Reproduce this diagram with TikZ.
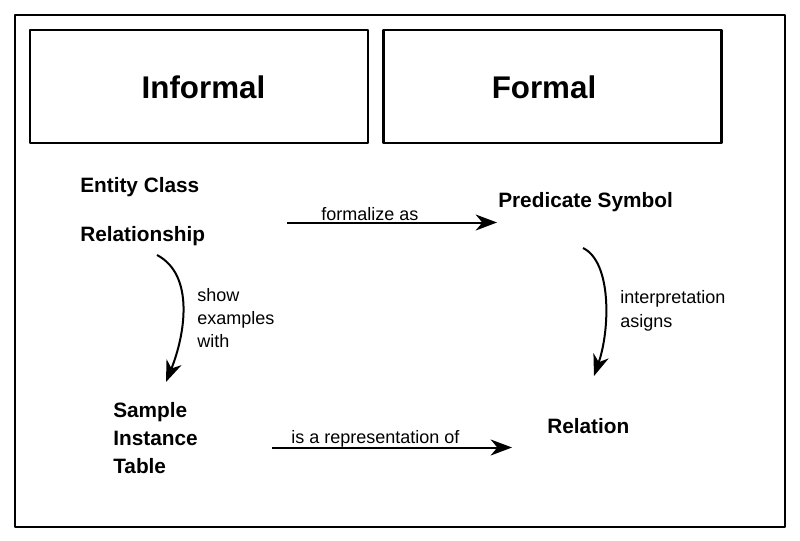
\documentclass[tikz,border=0pt]{standalone}
\usepackage{fontspec}
\setmainfont{Liberation Sans}
\usetikzlibrary{arrows.meta}

\begin{document}
\begin{tikzpicture}[x=0.75pt, y=-0.75pt,
	frame/.style={draw, line width=2.1pt, line join=round},
	box/.style={frame, minimum width=253.5pt, minimum height=84.75pt, inner sep=0pt},
	head/.style={font=\bfseries\fontsize{23.5}{28}\selectfont, inner sep=0pt},
	term/.style={font=\bfseries\fontsize{15.6}{21}\selectfont, inner sep=0pt, align=left},
	note/.style={font=\fontsize{13.5}{17.5}\selectfont, inner sep=0pt, align=left},
	flow/.style={line width=1.5pt, -{Stealth[length=16pt, width=12pt, inset=5pt]}}]

	\useasboundingbox (0,0) rectangle (800,540);

	\draw[frame] (15,15) rectangle (785,527);

	% headings
	\node[box] (informal) at (199,86.5) {};
	\node[box] (formal) at (552.5,86.5) {};
	\node[head] (informal-t) at (203.5,87) {Informal};
	\node[head] (formal-t) at (544,87) {Formal};

	% informal side
	\node[term, anchor=base west] (entity) at (80,192) {Entity Class};
	\node[term, anchor=base west] (relship) at (80,241) {Relationship};
	\node[term, anchor=west] (sample) at (113,438) {Sample\\Instance\\Table};

	% formal side
	\node[term, anchor=base west] (predicate) at (498,207) {Predicate Symbol};
	\node[term, anchor=base west] (relation) at (547,433) {Relation};

	% formalize as
	\coordinate (fa-a) at (287,222.5);
	\coordinate (fa-b) at (497,222.5);
	\draw[flow] (fa-a) -- (fa-b);
	\node[note, anchor=base west] (falbl) at (321,220) {formalize as};

	% is a representation of
	\coordinate (rep-a) at (272,447.5);
	\coordinate (rep-b) at (512,447.5);
	\draw[flow] (rep-a) -- (rep-b);
	\node[note, anchor=base west] (replbl) at (291,443) {is a representation of};

	% show examples with
	\coordinate (show-a) at (157,255);
	\coordinate (show-b) at (166,382);
	\draw[flow] (show-a) .. controls (195,275) and (185,335) .. (show-b);
	\node[note, anchor=west] (showlbl) at (197,318) {show\\examples\\with};

	% interpretation asigns
	\coordinate (interp-a) at (583,248);
	\coordinate (interp-b) at (594,376);
	\draw[flow] (interp-a) .. controls (612,262) and (610,330) .. (interp-b);
	\node[note, anchor=west] (interplbl) at (620,311) {interpretation\\asigns};

\end{tikzpicture}
\end{document}
